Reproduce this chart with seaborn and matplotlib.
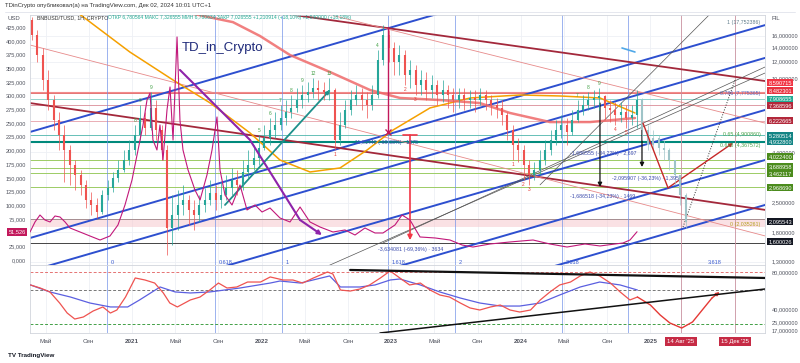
import numpy as np
import pandas as pd
import matplotlib
matplotlib.use("Agg")
import matplotlib.pyplot as plt
from matplotlib.lines import Line2D
from matplotlib.ticker import NullLocator
import seaborn as sns

sns.set_theme(style="white")
plt.rcParams['font.family'] = ['Liberation Sans', 'DejaVu Sans']

# ---------------- данные ----------------
# ось времени: месяцы от января 2020
month_ticks = [4, 8, 12, 16, 20, 24, 28, 32, 36, 40, 44, 48, 52, 56, 60]
month_labels = ['Май', 'Сен', '2021', 'Май', 'Сен', '2022', 'Май', 'Сен', '2023',
                'Май', 'Сен', '2024', 'Май', 'Сен', '2025']

# свечи (по полмесяца), правая шкала FIL
candle_t0 = 2.75
first_open = 19.05
closes = [16.13, 12.91, 9.78, 7.83, 6.27, 5.31, 4.49, 3.80, 3.40, 3.05,
          2.58, 2.44, 2.26, 2.73, 2.95, 3.29, 3.60, 4.02, 4.49, 5.31,
          6.41, 5.74, 7.17, 5.61, 4.49, 1.89, 2.18, 2.44, 2.58, 2.31,
          2.18, 2.44, 2.58, 2.79, 2.58, 2.73, 2.95, 3.22, 3.05, 3.52,
          3.80, 4.11, 4.59, 5.13, 5.61, 5.93, 6.41, 6.86, 7.17, 7.83,
          8.28, 8.56, 8.95, 8.75, 8.56, 8.75, 5.02, 5.93, 7.01, 7.83,
          8.28, 7.83, 7.41, 8.28, 12.21, 16.13, 13.96, 11.94, 12.91, 10.34,
          10.93, 9.25, 9.78, 8.75, 9.25, 8.28, 8.75, 8.28, 7.83, 8.28,
          7.83, 8.01, 7.83, 8.28, 7.83, 7.41, 7.17, 6.63, 5.61, 4.75,
          4.49, 3.80, 3.40, 3.60, 4.02, 4.49, 5.02, 5.61, 5.93, 5.49,
          6.27, 7.01, 7.41, 7.83, 8.01, 8.19, 7.17, 7.01, 6.63, 6.86,
          6.41, 6.63, 7.83]
highs = [19.70, 17.05, 13.96, 10.93, 8.28, 6.86, 5.93, 4.75, 4.02, 3.60,
         3.22, 2.82, 2.64, 2.88, 3.22, 3.52, 4.02, 4.49, 5.02, 5.93,
         7.41, 6.86, 8.56, 7.83, 5.93, 4.75, 2.73, 2.88, 3.05, 2.73,
         2.58, 2.73, 2.95, 3.22, 3.05, 3.15, 3.40, 3.68, 3.60, 4.02,
         4.49, 4.75, 5.31, 5.93, 6.41, 6.86, 7.41, 7.83, 8.28, 8.95,
         9.25, 9.56, 10.00, 9.78, 9.56, 10.00, 8.95, 6.86, 7.83, 8.75,
         9.25, 8.95, 8.56, 9.25, 13.65, 18.03, 17.05, 14.92, 14.43, 13.65,
         12.21, 11.55, 10.93, 10.69, 10.34, 9.78, 9.78, 9.25, 8.95, 8.95,
         8.95, 8.75, 8.75, 8.95, 8.75, 8.28, 8.01, 7.83, 6.86, 5.93,
         5.13, 4.75, 4.02, 3.94, 4.49, 5.02, 5.61, 6.27, 6.63, 6.41,
         7.01, 7.83, 8.28, 8.56, 8.75, 8.95, 8.28, 7.83, 7.65, 7.65,
         7.41, 7.41, 8.75]
lows = [15.26, 11.94, 8.75, 7.01, 5.61, 4.49, 3.15, 3.05, 2.88, 2.73,
        2.36, 2.18, 2.11, 2.20, 2.58, 2.82, 3.15, 3.52, 3.80, 4.25,
        5.02, 5.31, 5.61, 5.02, 4.02, 1.40, 1.57, 1.85, 2.18, 1.95,
        1.85, 2.02, 2.26, 2.44, 2.31, 2.36, 2.58, 2.73, 2.73, 2.88,
        3.29, 3.60, 3.80, 4.49, 4.75, 5.13, 5.61, 5.93, 6.41, 6.86,
        7.17, 7.65, 8.01, 7.83, 7.83, 7.83, 4.49, 4.75, 5.74, 6.63,
        7.41, 7.01, 6.41, 7.01, 8.01, 11.55, 11.94, 10.34, 10.34, 9.25,
        8.95, 8.28, 8.28, 7.83, 8.01, 7.41, 7.65, 7.17, 6.86, 7.17,
        7.01, 7.17, 6.86, 7.41, 7.01, 6.63, 6.41, 5.93, 5.02, 4.02,
        3.94, 3.22, 3.05, 3.22, 3.40, 3.80, 4.25, 4.75, 5.13, 4.75,
        5.31, 6.13, 6.63, 7.01, 7.17, 7.01, 6.27, 6.13, 5.93, 6.13,
        5.74, 5.93, 5.74]

# проекция (bars pattern)
proj_closes = [5.61, 4.75, 5.13, 4.59, 4.49, 4.02, 3.40, 2.73, 2.02]
proj_highs = [8.01, 5.93, 5.61, 5.31, 5.02, 4.59, 4.02, 3.40, 2.79]
proj_lows = [5.02, 4.49, 4.49, 4.25, 4.02, 3.60, 3.05, 2.44, 1.89]

# скользящие средние
orange_t = [7.0, 11.8, 15.8, 19.2, 22.93, 25.7, 28.48, 31.26, 33.76, 36.17, 39.59, 43.3, 47.93, 51.63, 55.33, 58.57]
orange_p = [20.6, 13.35, 9.78, 7.60, 5.43, 4.02, 3.52, 3.68, 4.49, 5.61, 7.17, 8.01, 8.28, 8.19, 8.01, 6.78]
red_ma_t = [16.9, 21.35, 23.85, 26.63, 30.33, 34.04, 36.81, 40.52, 44.22, 47.0, 50.7, 54.41, 58.57]
red_ma_p = [20.8, 18.6, 15.95, 12.91, 10.69, 8.75, 8.01, 7.83, 7.57, 6.78, 6.13, 6.13, 6.41]

# левая шкала USD (малиновая линия)
usd_t = [2.56, 3.02, 3.48, 3.94, 4.41, 4.87, 5.33, 5.80, 6.26, 7.19,
         8.11, 9.04, 9.96, 10.70, 11.35, 12.0, 12.56, 13.02, 13.39, 13.67,
         13.94, 14.31, 14.59, 14.87, 15.24, 15.52, 15.80, 15.98, 16.17, 16.44,
         16.72, 17.19, 17.83, 18.30, 18.94, 19.41, 19.87, 20.15, 20.61, 21.26,
         22.0, 22.65, 23.39, 24.04, 24.78, 25.70, 26.63, 27.56, 28.48, 29.41,
         30.61, 31.72, 32.65, 33.57, 34.50, 35.24, 36.35, 37.0, 37.74, 38.67,
         40.06, 41.44, 42.56, 43.57, 45.15, 47.0, 49.13, 50.70, 52.28, 53.94,
         55.33, 56.72, 57.46, 58.11, 58.76]
usd_v = [51.1, 69.4, 82.1, 73.0, 69.4, 80.3, 78.5, 69.4, 58.4, 51.1,
         43.8, 36.5, 43.8, 63.9, 100.4, 146.0, 200.8, 246.4, 292.0, 304.8,
         219.0, 200.8, 246.4, 182.5, 273.8, 315.7, 219.0, 310.3, 407.0, 255.5,
         200.8, 164.3, 127.8, 109.5, 155.1, 200.8, 261.0, 164.3, 118.6, 100.4,
         136.9, 91.3, 100.4, 87.6, 94.9, 76.7, 69.4, 96.7, 69.4, 60.2,
         51.1, 54.8, 45.6, 58.4, 49.3, 49.3, 63.9, 82.1, 73.0, 42.0,
         40.2, 36.5, 27.4, 23.7, 29.2, 32.9, 36.5, 29.2, 23.7, 29.2,
         25.6, 29.2, 31.0, 36.5, 51.526]
purple_t = [16.44, 22.93, 27.56, 29.59]
purple_v = [346.8, 219.0, 73.0, 45.6]

# уровни (горизонтальные линии с плашками справа)
level_prices = [8.590715, 8.482301, 7.908655, 7.368596, 6.222665, 5.280514, 4.932800,
                4.022400, 3.688958, 3.462117, 2.968690, 2.095543, 1.600026]
level_colors = ['#f23645', '#e8323f', '#22ab94', '#b2283b', '#b2283b', '#138484', '#138484',
                '#4b8b1d', '#4b8b1d', '#4b8b1d', '#4b8b1d', '#131722', '#131722']
level_line_colors = ['#f28b8b', '#e57373', '#80cbc4', '#d98c96', '#e7a0a8', '#4db6ac', '#00897b',
                     '#9ccc65', '#9ccc65', '#9ccc65', '#9ccc65', '#444444', '#444444']
level_widths = [0.8, 0.7, 0.6, 0.6, 0.6, 0.6, 1.5, 0.7, 0.7, 0.7, 0.7, 0.7, 0.7]
pink_zone = (1.91, 2.095543)

# каналы: цена на левом и правом краях
edge_t = (2.556, 70.61)
blue_channel_left = [5.49, 1.69, 1.17, 0.66, 0.376, 0.228]
blue_channel_right = [58.5, 18.0, 12.5, 7.01, 4.02, 2.44]
maroon_left = [7.57, 30.4]
maroon_right = [2.31, 9.67]
pink_left = [14.43, 46.3]
pink_right = [1.73, 6.06]

# тонкие наклонные линии: (t0, p0, t1, p1)
thin_lines = [(29.69, 1.21, 70.61, 10.57), (35.24, 1.60, 70.61, 11.3), (49.78, 3.05, 65.7, 20.8)]
dotted_proj = (63.02, 1.91, 67.83, 9.78)
red_zigzag_t = [59.31, 61.63, 67.65]
red_zigzag_p = [6.06, 2.95, 4.86]
teal_arrow = (20.61, 2.44, 30.33, 8.75)
red_drop = (37.74, 5.31, 1.65)
crimson_drop = (35.70, 17.6, 5.49)
black_drops = [(55.33, 7.57, 2.98), (59.22, 5.93, 3.72)]
cyan_tick = (57.37, 13.96, 58.57, 13.35)

# временные зоны Фибоначчи
fib_t = [9.69, 19.69, 25.89, 35.70, 41.91, 51.81, 57.93]
fib_labels = ['0', '0.618', '1', '1.618', '2', '2.618', '']
date_marks_t = [62.83, 67.83]
date_marks = ["14 Авг '25", "15 Дек '25"]

# осциллятор
osc_red_t = [2.6, 3.5, 4.4, 5.3, 6.0, 6.7, 7.5, 8.4, 9.3, 10.0, 10.6, 11.4, 12.3, 13.2, 14.1, 14.9,
             15.5, 16.2, 17.4, 18.3, 19.2, 20.0, 20.8, 21.7, 22.7, 23.9, 24.8, 26.0, 26.9, 27.8,
             28.8, 30.1, 30.6, 31.3, 32.2, 33.1, 34.0, 35.0, 35.9, 36.8, 37.7, 38.7, 39.6, 40.5,
             41.4, 42.4, 43.3, 44.2, 45.2, 46.1, 47.0, 47.9, 48.9, 49.8, 50.7, 51.6, 52.6, 53.5,
             54.4, 55.3, 56.3, 57.2, 58.1, 58.8]
osc_red_v = [65.9, 62.6, 58.3, 46.3, 35.4, 28.9, 31.1, 37.6, 42.0, 35.4, 38.7, 52.8, 73.5, 71.3, 68.0, 57.2,
             46.3, 42.0, 49.6, 52.8, 60.4, 68.0, 62.6, 63.7, 69.1, 69.1, 74.6, 71.3, 71.3, 68.0,
             73.5, 80.0, 77.8, 60.4, 59.3, 61.5, 65.9, 73.5, 81.1, 73.5, 65.9, 68.0, 60.4, 55.0,
             52.8, 46.3, 40.9, 38.7, 42.0, 44.1, 38.7, 36.5, 38.7, 49.6, 58.3, 65.9, 69.1, 75.7,
             80.0, 75.7, 68.0, 58.3, 49.6, 52.8]
osc_proj_t = [58.8, 60.0, 60.9, 61.8, 62.9, 63.9, 64.8, 65.7, 66.4]
osc_proj_v = [52.8, 44.1, 33.3, 24.6, 19.1, 25.7, 38.7, 51.7, 58.3]
osc_blue_t = [2.6, 4.4, 6.3, 8.1, 10.0, 11.6, 12.7, 14.6, 16.0, 17.4, 19.2, 22.0, 24.8, 25.7, 27.6, 30.3,
              31.3, 33.1, 34.5, 35.9, 36.8, 38.7, 40.5, 42.4, 44.2, 46.1, 47.9, 49.8, 51.6, 53.5,
              55.3, 57.2, 58.8]
osc_blue_v = [65.9, 58.3, 52.8, 46.3, 42.0, 42.0, 49.6, 63.7, 58.3, 57.2, 58.3, 62.6, 68.0, 70.2, 68.0, 75.7,
              63.7, 63.7, 65.9, 71.3, 72.4, 65.9, 58.3, 51.7, 46.3, 43.0, 43.0, 46.3, 55.0, 63.7,
              69.1, 65.9, 60.4]
osc_levels = [80, 60, 23]
osc_black_down = (32.2, 82.2, 70.61, 73.5)
osc_black_up = (34.96, 13.7, 70.61, 61.5)

# TD Sequential отметки: (свеча, текст, цвет)
td_marks = [(19, '8', 'g'), (20, '9', 'g'), (22, '9', 'g'), (42, '5', 'g'), (44, '6', 'g'),
            (46, '7', 'g'), (48, '8', 'g'), (50, '9', 'g'), (52, '12', 'g'), (55, '13', 'g'),
            (64, '4', 'g'), (56, '1', 'r'), (69, '2', 'r'), (71, '3', 'r'),
            (89, '1', 'r'), (91, '2', 'r'), (92, '3', 'r'), (101, '7', 'g'), (103, '8', 'g'),
            (105, '9', 'g'), (108, '4', 'r'), (110, '5', 'r')]


def ru(v, nd):
    return f"{v:.{nd}f}".replace('.', ',')


def arrow(a, p0, p1, color, lw=1.0, ms=5):
    a.annotate('', xy=p1, xytext=p0,
               arrowprops=dict(arrowstyle='-|>', color=color, lw=lw, mutation_scale=ms,
                               shrinkA=0, shrinkB=0))


# ---------------- фигура ----------------
fig = plt.figure(figsize=(8, 3.63), dpi=100)
L, R = 30 / 800, 765 / 800
ax = fig.add_axes([L, 1 - 265 / 363, R - L, 250 / 363])
axo = fig.add_axes([L, 1 - 333 / 363, R - L, 68 / 363], sharex=ax)
axu = ax.twinx()

ax.set_yscale('log')
ax.set_ylim(1.252, 20.14)
ax.set_xlim(*edge_t)
axu.set_ylim(-9.125, 447.1)
axo.set_ylim(13.7, 87.6)

right_ticks = [16, 14, 12, 10, 4.4, 2.5, 1.8, 1.3]
for p in right_ticks:
    ax.axhline(p, color='#eef0f5', lw=0.6, zorder=0)
for m in month_ticks:
    ax.axvline(m, color='#eef0f5', lw=0.6, zorder=0)
    axo.axvline(m, color='#eef0f5', lw=0.6, zorder=0)

# уровни
for p, c, w in zip(level_prices, level_line_colors, level_widths):
    ax.axhline(p, color=c, lw=w, zorder=1)
ax.axhspan(*pink_zone, color='#f6c9cf', alpha=0.55, zorder=1, lw=0)

# вертикальные линии
for t, lab in zip(fib_t, fib_labels):
    for a in (ax, axo):
        a.axvline(t, color='#6f8fe8', lw=0.6, alpha=0.8, zorder=1)
    ax.text(t + 0.3, 1.29, lab, fontsize=4, color='#3a5bd0', va='center')
ax.text(65.3, 1.29, '3.618', fontsize=4, color='#3a5bd0', va='center')
for t in date_marks_t:
    for a in (ax, axo):
        a.axvline(t, color='#c9919f', lw=0.6, zorder=1)

# каналы
for s, e in zip(blue_channel_left, blue_channel_right):
    ax.plot(edge_t, [s, e], color='#2d4fcf', lw=1.4, zorder=2)
for s, e in zip(maroon_left, maroon_right):
    ax.plot(edge_t, [s, e], color='#a3283b', lw=1.3, zorder=2)
for s, e in zip(pink_left, pink_right):
    ax.plot(edge_t, [s, e], color='#e78a8a', lw=0.6, zorder=2)
for t0, p0, t1, p1 in thin_lines:
    ax.plot([t0, t1], [p0, p1], color='#555555', lw=0.5, zorder=2)
ax.plot(dotted_proj[0::2], dotted_proj[1::2], color='#333333', lw=0.7, ls=':', zorder=3)

# скользящие
sns.lineplot(x=orange_t, y=orange_p, ax=ax, color='#f5a000', lw=1.1, zorder=3)
sns.lineplot(x=red_ma_t, y=red_ma_p, ax=ax, color='#ef6a6a', lw=1.8, alpha=0.85, zorder=3)

# свечи
df = pd.DataFrame({'t': candle_t0 + 0.5 * np.arange(len(closes)), 'close': closes,
                   'high': highs, 'low': lows})
df['open'] = [first_open] + closes[:-1]
col = np.where(df['close'] >= df['open'], '#26a69a', '#ef5350')
ax.vlines(df['t'], df['low'], df['high'], colors=col, lw=0.5, zorder=4)
ax.vlines(df['t'], df[['open', 'close']].min(axis=1), df[['open', 'close']].max(axis=1),
          colors=col, lw=1.5, zorder=4)

pj = pd.DataFrame({'t': df['t'].iloc[-1] + 0.5 * np.arange(1, len(proj_closes) + 1),
                   'close': proj_closes, 'high': proj_highs, 'low': proj_lows})
pj['open'] = [closes[-1]] + proj_closes[:-1]
ax.vlines(pj['t'], pj['low'], pj['high'], colors='#9fc4c8', lw=0.5, zorder=4)
ax.vlines(pj['t'], pj[['open', 'close']].min(axis=1), pj[['open', 'close']].max(axis=1),
          colors='#9fc4c8', lw=1.5, zorder=4)

for i, lab, c in td_marks:
    if c == 'g':
        ax.annotate(lab, (df['t'][i], df['high'][i]), xytext=(0, 1.5), textcoords='offset points',
                    ha='center', va='bottom', fontsize=3.5, color='#43a047', zorder=5)
    else:
        ax.annotate(lab, (df['t'][i], df['low'][i]), xytext=(0, -1.5), textcoords='offset points',
                    ha='center', va='top', fontsize=3.5, color='#e53935', zorder=5)

# рисунки
arrow(ax, teal_arrow[:2], teal_arrow[2:], '#1e8f8a', lw=1.3)
sns.lineplot(x=red_zigzag_t[:2], y=red_zigzag_p[:2], ax=ax, color='#c62828', lw=1.0, zorder=5)
arrow(ax, (red_zigzag_t[1], red_zigzag_p[1]), (red_zigzag_t[2], red_zigzag_p[2]), '#c62828', lw=1.0)
arrow(ax, (red_drop[0], red_drop[1]), (red_drop[0], red_drop[2]), '#f23645', lw=1.2, ms=7)
ax.plot([red_drop[0] - 0.65, red_drop[0] + 0.65], [red_drop[1], red_drop[1]], color='#f23645', lw=1.2)
ax.plot([crimson_drop[0]] * 2, crimson_drop[1:], color='#c2185b', lw=1.0, zorder=5)
ax.plot(crimson_drop[0], crimson_drop[2], marker='x', color='#c2185b', ms=4, zorder=5)
for t, p0, p1 in black_drops:
    arrow(ax, (t, p0), (t, p1), '#111111', lw=0.9, ms=6)
ax.plot(cyan_tick[0::2], cyan_tick[1::2], color='#4fa8e8', lw=1.2)

# подписи измерений
meas = [(32.46, 4.86, '-11,81440 (-69,08%) · 1875'), (34.78, 1.48, '-3,634081 (-69,36%) · 3634'),
        (52.56, 4.30, '-1,686555 (-34,22%) · 2,697'), (56.44, 3.29, '-2,095907 (-36,23%) · 1,395'),
        (52.56, 2.67, '-1,686518 (-34,23%) · 1469')]
for t, p, s in meas:
    ax.text(t, p, s, fontsize=3.8, color='#3949ab', va='center', zorder=6)
fibtxt = [(18.6, '1 (17,752386)', '#607d8b'), (8.46, '0.786 (7,775365)', '#5c6bc0'),
          (5.31, '0.65 (4,900860)', '#43a047'), (4.75, '0.618 (4,367572)', '#43a047'),
          (1.97, '0 (2,035261)', '#b5a21f')]
for p, s, c in fibtxt:
    ax.text(70.2, p, s, fontsize=3.8, color=c, va='center', ha='right', zorder=6)

# левая шкала: малиновая линия
sns.lineplot(x=usd_t, y=usd_v, ax=axu, color='#c2187a', lw=0.8, zorder=6)
sns.lineplot(x=purple_t[:-1], y=purple_v[:-1], ax=axu, color='#8e24aa', lw=1.5, zorder=6)
arrow(axu, (purple_t[-2], purple_v[-2]), (purple_t[-1], purple_v[-1]), '#8e24aa', lw=1.5, ms=6)

ax.text(0.207, 0.868, 'TD_in_Crypto', transform=ax.transAxes, fontsize=9.5, color='#1f2a7a',
        va='center', ha='left', zorder=7)

# оси
ax.yaxis.tick_right()
ax.yaxis.set_minor_locator(NullLocator())
ax.set_yticks(right_ticks)
ax.set_yticklabels([ru(v, 6) for v in right_ticks])
ax.tick_params(axis='y', length=0, labelsize=4.1, colors='#50535e', pad=5)
ax.tick_params(axis='x', labelbottom=False, length=0)
ax.set_ylabel('')
ax.set_xlabel('')

usd_ticks = [v for v in range(0, 426, 25) if v != 50]
axu.yaxis.tick_left()
axu.set_yticks(usd_ticks)
axu.set_yticklabels([ru(v, 3) for v in usd_ticks])
axu.tick_params(axis='y', length=0, labelsize=4.1, colors='#50535e', pad=3)
axu.set_ylabel('')
for s in axu.spines.values():
    s.set_visible(False)

for lv, c in zip(osc_levels, ['#e57373', '#777777', '#43a047']):
    axo.axhline(lv, color=c, lw=0.7, ls=(0, (3, 2)), zorder=1)
sns.lineplot(x=osc_blue_t, y=osc_blue_v, ax=axo, color='#5b5fe0', lw=0.9, zorder=3)
sns.lineplot(x=osc_red_t, y=osc_red_v, ax=axo, color='#ef5350', lw=0.9, zorder=4)
sns.lineplot(x=osc_proj_t[:-1], y=osc_proj_v[:-1], ax=axo, color='#e53935', lw=1.0, zorder=4)
arrow(axo, (osc_proj_t[-2], osc_proj_v[-2]), (osc_proj_t[-1], osc_proj_v[-1]), '#e53935', lw=1.0)
axo.plot(osc_black_down[0::2], osc_black_down[1::2], color='#111111', lw=1.6, zorder=5)
axo.plot(osc_black_up[0::2], osc_black_up[1::2], color='#111111', lw=1.1, zorder=5)

osc_ticks = [80, 40, 25, 17]
axo.yaxis.tick_right()
axo.set_yticks(osc_ticks)
axo.set_yticklabels([ru(v, 6) for v in osc_ticks])
axo.tick_params(axis='y', length=0, labelsize=4.1, colors='#50535e', pad=5)
axo.set_xticks(month_ticks)
axo.set_xticklabels(month_labels)
axo.tick_params(axis='x', length=0, labelsize=4.5, colors='#50535e', pad=4)
for lab in axo.get_xticklabels():
    if lab.get_text().isdigit():
        lab.set_fontweight('bold')
axo.set_xlabel('')
axo.set_ylabel('')
for a in (ax, axo):
    for s in a.spines.values():
        s.set_color('#d1d4dc')
        s.set_linewidth(0.6)

# плашки
nudges = [9, 2.5, 0, 0, 0, 0, 0, 3, 1, 0, 0, -3, 1]
for p, c, dy in zip(level_prices, level_colors, nudges):
    ax.annotate(ru(p, 6), xy=(1.0, p), xycoords=ax.get_yaxis_transform(),
                xytext=(2.5, dy * 0.72), textcoords='offset points', ha='left', va='center',
                fontsize=4.1, color='white', annotation_clip=False, zorder=10,
                bbox=dict(boxstyle='square,pad=0.18', fc=c, ec='none'))
axu.annotate(ru(usd_v[-1], 3), xy=(0.0, usd_v[-1]), xycoords=axu.get_yaxis_transform(),
             xytext=(-3, 0), textcoords='offset points', ha='right', va='center',
             fontsize=4.1, color='white', annotation_clip=False,
             bbox=dict(boxstyle='square,pad=0.25', fc='#c2185b', ec='none'))
for t, s in zip(date_marks_t, date_marks):
    axo.text(t, -0.12, s, transform=axo.get_xaxis_transform(), ha='center', va='center',
             fontsize=4.3, color='white',
             bbox=dict(boxstyle='square,pad=0.35', fc='#c62b45', ec='none'))

# заголовки
fig.text(5 / 800, 1 - 6 / 363, 'TDinCrypto опубликовал(а) на TradingView.com, Дек 02, 2024 10:01 UTC+1',
         fontsize=4.3, color='#333333', va='center')
fig.text(37 / 800, 1 - 18 / 363, 'BNBUSD/TUSD, 1Н, CRYPTO', fontsize=3.8, color='#333333', va='center')
fig.text(108 / 800, 1 - 18 / 363,
         'ОТКР 6,780564 МАКС 7,326555 МИН 6,780634 ЗАКР 7,026555 +1,210914 (+18,10%) +1,040000 (+18,18%)',
         fontsize=3.6, color='#22ab94', va='center')
fig.text(8 / 800, 1 - 19 / 363, 'USD', fontsize=4.3, color='#50535e', va='center')
fig.text(772 / 800, 1 - 19 / 363, 'FIL', fontsize=4.3, color='#50535e', va='center')
fig.text(8 / 800, 1 - 355 / 363, 'TV TradingView', fontsize=4.5, color='#131722', va='center',
         fontweight='bold')
fig.add_artist(Line2D([5 / 800, 795 / 800], [1 - 12 / 363, 1 - 12 / 363], color='#e0e3eb', lw=0.6))

fig.savefig('out.png', dpi=100)
